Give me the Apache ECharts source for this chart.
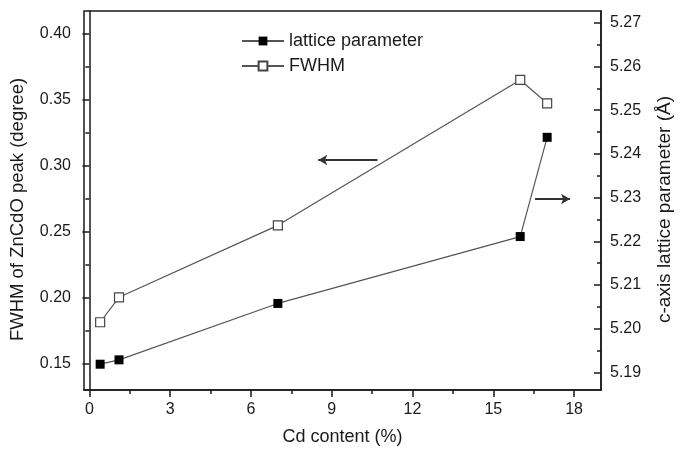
<!DOCTYPE html>
<html><head><meta charset="utf-8">
<script src="https://cdn.jsdelivr.net/npm/echarts@6/dist/echarts.min.js"></script>
<style>html,body{margin:0;padding:0;background:#fff}#c{width:681px;height:453px}</style>
</head><body><div id="c"></div>
<script>
// ---- data ----
const cdContent = [0.4, 1.1, 7, 16, 17];
const latticeParameter = [5.1919, 5.1929, 5.2058, 5.2211, 5.2438];
const fwhm = [0.1814, 0.2003, 0.2549, 0.3652, 0.3475];
const xTicks = [0, 3, 6, 9, 12, 15, 18];
const xMinorTicks = [1.5, 4.5, 7.5, 10.5, 13.5, 16.5];
const leftTicks = [0.15, 0.20, 0.25, 0.30, 0.35, 0.40];
const leftMinorTicks = [0.175, 0.225, 0.275, 0.325, 0.375];
const rightTicks = [5.19, 5.20, 5.21, 5.22, 5.23, 5.24, 5.25, 5.26, 5.27];
const rightMinorTicks = [5.195, 5.205, 5.215, 5.225, 5.235, 5.245, 5.255, 5.265];
const arrowToFwhmAxis = [[10.7, 0.3045], [8.5, 0.3045]];
const arrowToLatticeAxis = [[16.55, 5.2297], [17.85, 5.2297]];

const FONT = 'Liberation Sans, Arial, sans-serif';
const AX = '#1a1a1a';
const LINE = '#555';

function pts(xs, ys) { return xs.map((x, i) => [x, ys[i]]); }

const chart = echarts.init(document.getElementById('c'), null, {renderer: 'canvas'});
const X_MIN = -0.2, X_MAX = 19;
const L_MIN = 0.13, L_MAX = 0.4175;
const R_MIN = 5.186, R_MAX = 5.2727;

const hidden = {show: false};
chart.setOption({
  animation: false,
  backgroundColor: '#fff',
  textStyle: {fontFamily: FONT},
  grid: {left: 84, right: 80, top: 11, bottom: 63, show: true, borderColor: AX, borderWidth: 1.5,
         backgroundColor: 'transparent', containLabel: false, outerBoundsMode: 'none'},
  legend: {
    orient: 'vertical', left: 241, top: 32, padding: 0, itemGap: 7,
    itemWidth: 42, itemHeight: 11,
    textStyle: {fontFamily: FONT, fontSize: 18, color: '#1a1a1a'},
    data: ['lattice parameter', 'FWHM']
  },
  xAxis: [
    {type: 'value', min: X_MIN, max: X_MAX, position: 'bottom',
     name: 'Cd content (%)', nameLocation: 'middle', nameGap: 38,
     nameTextStyle: {fontFamily: FONT, fontSize: 18, color: '#1a1a1a'},
     axisLine: {show: true, lineStyle: {color: AX, width: 1.5}},
     axisTick: {show: true, inside: false, length: 7, customValues: xTicks, lineStyle: {color: AX, width: 1.5}},
     axisLabel: {show: true, customValues: xTicks, margin: 12, fontFamily: FONT, fontSize: 16, color: '#1a1a1a'},
     splitLine: hidden},
    {type: 'value', min: X_MIN, max: X_MAX, position: 'bottom',
     axisLine: hidden,
     axisTick: {show: true, inside: false, length: 4, customValues: xMinorTicks, lineStyle: {color: AX, width: 1.5}},
     axisLabel: hidden, splitLine: hidden}
  ],
  yAxis: [
    {type: 'value', min: L_MIN, max: L_MAX, position: 'left',
     name: 'FWHM of ZnCdO peak (degree)', nameLocation: 'middle', nameGap: 57, nameRotate: 90,
     nameTextStyle: {fontFamily: FONT, fontSize: 18.5, color: '#1a1a1a', padding: [0, 18, 0, 0]},
     axisLine: {show: true, lineStyle: {color: AX, width: 1.5}},
     axisTick: {show: true, inside: false, length: 7, customValues: leftTicks, lineStyle: {color: AX, width: 1.5}},
     axisLabel: {show: true, customValues: leftTicks, margin: 13, fontFamily: FONT, fontSize: 16, color: '#1a1a1a',
                 formatter: v => v.toFixed(2)},
     splitLine: hidden},
    {type: 'value', min: L_MIN, max: L_MAX, position: 'left',
     axisLine: hidden,
     axisTick: {show: true, inside: false, length: 4, customValues: leftMinorTicks, lineStyle: {color: AX, width: 1.5}},
     axisLabel: hidden, splitLine: hidden},
    {type: 'value', min: R_MIN, max: R_MAX, position: 'right',
     name: 'c-axis lattice parameter (Å)', nameLocation: 'middle', nameGap: 54, nameRotate: 90,
     nameTextStyle: {fontFamily: FONT, fontSize: 19, color: '#1a1a1a', padding: [0, 18, 0, 0]},
     axisLine: {show: true, lineStyle: {color: AX, width: 1.5}},
     axisTick: {show: true, inside: true, length: 7, customValues: rightTicks, lineStyle: {color: AX, width: 1.5}},
     axisLabel: {show: true, customValues: rightTicks, margin: 9, fontFamily: FONT, fontSize: 16, color: '#1a1a1a',
                 formatter: v => v.toFixed(2)},
     splitLine: hidden},
    {type: 'value', min: R_MIN, max: R_MAX, position: 'right',
     axisLine: hidden,
     axisTick: {show: true, inside: true, length: 4, customValues: rightMinorTicks, lineStyle: {color: AX, width: 1.5}},
     axisLabel: hidden, splitLine: hidden}
  ],
  series: [
    {name: 'lattice parameter', type: 'line', xAxisIndex: 0, yAxisIndex: 2,
     data: pts(cdContent, latticeParameter),
     symbol: 'rect', symbolSize: 9,
     itemStyle: {color: '#000'},
     lineStyle: {color: LINE, width: 1.2},
     markLine: {silent: true, symbol: ['none', 'arrow'], symbolSize: [8, 9],
       label: {show: false}, lineStyle: {color: '#333', width: 2, type: 'solid'},
       data: [[{coord: arrowToLatticeAxis[0]}, {coord: arrowToLatticeAxis[1]}]]}
    },
    {name: 'FWHM', type: 'line', xAxisIndex: 0, yAxisIndex: 0,
     data: pts(cdContent, fwhm),
     symbol: 'rect', symbolSize: 9,
     itemStyle: {color: '#fff', borderColor: '#444', borderWidth: 1.2},
     lineStyle: {color: LINE, width: 1.2},
     markLine: {silent: true, symbol: ['none', 'arrow'], symbolSize: [8, 9],
       label: {show: false}, lineStyle: {color: '#333', width: 2, type: 'solid'},
       data: [[{coord: arrowToFwhmAxis[0]}, {coord: arrowToFwhmAxis[1]}]]}
    }
  ]
});
</script>
</body></html>
